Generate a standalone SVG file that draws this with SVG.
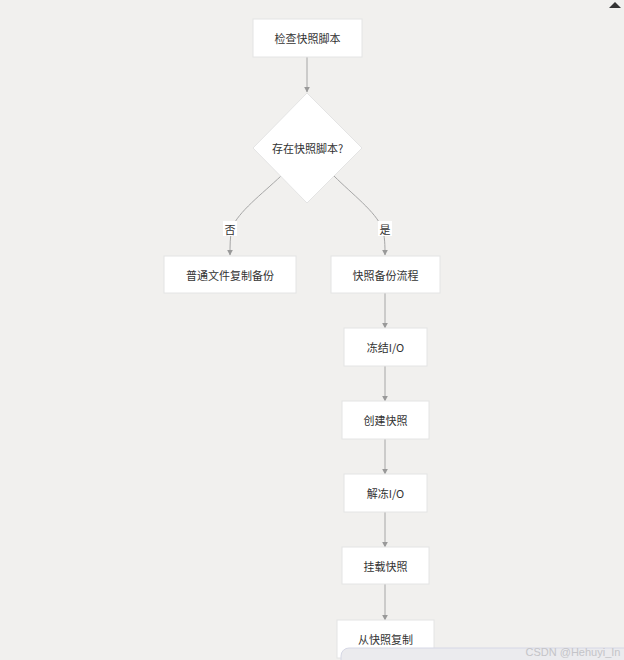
<svg xmlns="http://www.w3.org/2000/svg" width="624" height="660" viewBox="0 0 624 660">
<defs>
<style>
.node rect, .node polygon { fill: #ffffff; stroke: #e4e4e4; stroke-width: 1; }
.node text, .lbl text { font-family: "Noto Sans CJK SC", "Liberation Sans", sans-serif; font-size: 11px; fill: #333333; text-anchor: middle; dominant-baseline: central; }
.edge { fill: none; stroke: #a6a6a6; stroke-width: 1; }
</style>
<marker id="arr" viewBox="0 0 10 10" refX="9" refY="5" markerWidth="6" markerHeight="6" orient="auto" markerUnits="userSpaceOnUse">
<path d="M0,0 L10,5 L0,10 z" fill="#999999"/>
</marker>
</defs>
<rect width="624" height="660" fill="#f1f0ee"/>
<polygon points="609,8 615,2 621,8" fill="#333333"/>

<g id="connectors">
<path class="edge" d="M307,57 L307,92" marker-end="url(#arr)"/>
<path class="edge" d="M281,176 C262,194 238,212 232,228 C230,236 230,246 230,255" marker-end="url(#arr)"/>
<path class="edge" d="M334,176 C352,194 376,212 382,228 C385,236 385,246 385,255" marker-end="url(#arr)"/>
<path class="edge" d="M385,293 L385,328" marker-end="url(#arr)"/>
<path class="edge" d="M385,366 L385,401" marker-end="url(#arr)"/>
<path class="edge" d="M385,439 L385,474" marker-end="url(#arr)"/>
<path class="edge" d="M385,512 L385,547" marker-end="url(#arr)"/>
<path class="edge" d="M385,584 L385,620" marker-end="url(#arr)"/>
</g>

<g class="lbl" id="label-no">
<rect x="223" y="221" width="14" height="15" fill="#ffffff"/>
<text x="230" y="228.5">否</text>
</g>
<g class="lbl" id="label-yes">
<rect x="378" y="221" width="14" height="15" fill="#ffffff"/>
<text x="385" y="228.5">是</text>
</g>

<g class="node" id="check">
<rect x="253" y="19" width="109" height="38"/>
<text x="307.5" y="38">检查快照脚本</text>
</g>
<g class="node" id="exists">
<polygon points="307,93 362,148 307,203 253,148"/>
<text x="307.5" y="148">存在快照脚本?</text>
</g>
<g class="node" id="normal">
<rect x="164" y="256" width="132" height="37"/>
<text x="230" y="274.5">普通文件复制备份</text>
</g>
<g class="node" id="snapflow">
<rect x="331" y="256" width="109" height="37"/>
<text x="385.5" y="274.5">快照备份流程</text>
</g>
<g class="node" id="freeze">
<rect x="344" y="328" width="83" height="38"/>
<text x="385.5" y="347">冻结I/O</text>
</g>
<g class="node" id="create">
<rect x="342" y="401" width="87" height="38"/>
<text x="385.5" y="420">创建快照</text>
</g>
<g class="node" id="thaw">
<rect x="344" y="474" width="83" height="38"/>
<text x="385.5" y="493">解冻I/O</text>
</g>
<g class="node" id="mount">
<rect x="342" y="547" width="87" height="37"/>
<text x="385.5" y="565.5">挂载快照</text>
</g>
<g class="node" id="copy">
<rect x="337" y="620" width="97" height="38"/>
<text x="385.5" y="639">从快照复制</text>
</g>

<rect x="341" y="648" width="300" height="30" rx="8" fill="#ebebee" stroke="#d6d8e6" stroke-width="1"/>
<text x="573" y="652" font-family="Liberation Sans, sans-serif" font-size="11" fill="#c4c4c8" text-anchor="middle" dominant-baseline="central">CSDN @Hehuyi_In</text>
</svg>
